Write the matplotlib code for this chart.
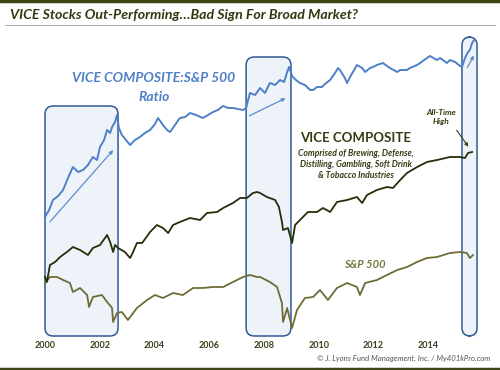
import matplotlib
matplotlib.use("Agg")
import matplotlib.pyplot as plt
from matplotlib.patches import FancyBboxPatch
from matplotlib.lines import Line2D

plt.rcParams['font.family'] = ['Lato', 'DejaVu Sans']

# readings (decimal year, relative level; no y scale shown on original)
ratio_years = [2000.00, 2000.15, 2000.29, 2000.48, 2000.66, 2000.84, 2001.02, 2001.21, 2001.39, 2001.57,
               2001.75, 2001.90, 2002.01, 2002.16, 2002.27, 2002.38, 2002.45, 2002.56, 2002.63, 2002.70,
               2002.81, 2002.96, 2003.11, 2003.29, 2003.47, 2003.65, 2003.84, 2004.02, 2004.13, 2004.31,
               2004.46, 2004.57, 2004.75, 2004.93, 2005.12, 2005.30, 2005.52, 2005.77, 2005.96, 2006.14,
               2006.32, 2006.51, 2006.69, 2006.87, 2007.05, 2007.24, 2007.35, 2007.49, 2007.68, 2007.86,
               2008.04, 2008.22, 2008.41, 2008.59, 2008.74, 2008.85, 2008.92, 2009.03, 2009.17, 2009.32,
               2009.50, 2009.69, 2009.80, 2009.94, 2010.12, 2010.23, 2010.42, 2010.60, 2010.71, 2010.78,
               2010.96, 2011.04, 2011.15, 2011.40, 2011.59, 2011.70, 2011.88, 2011.99, 2012.13, 2012.35,
               2012.50, 2012.61, 2012.87, 2012.98, 2013.23, 2013.34, 2013.60, 2013.71, 2013.96, 2014.07,
               2014.33, 2014.44, 2014.69, 2014.80, 2014.99, 2015.17, 2015.24, 2015.35, 2015.46, 2015.53,
               2015.61, 2015.68]
ratio_vals = [153, 160, 170, 174, 180, 192, 203, 198, 200, 205,
              213, 210, 223, 230, 240, 237, 243, 248, 255, 242,
              235, 230, 225, 230, 233, 237, 240, 246, 252, 245,
              240, 238, 245, 252, 253, 257, 255, 252, 255, 258,
              260, 264, 262, 262, 261, 260, 262, 277, 275, 282,
              277, 287, 285, 290, 288, 298, 303, 294, 290, 287,
              285, 280, 280, 283, 283, 286, 290, 297, 302, 300,
              292, 287, 293, 305, 302, 298, 302, 303, 305, 307,
              304, 302, 298, 300, 300, 302, 305, 307, 312, 314,
              310, 312, 307, 310, 308, 304, 303, 312, 318, 320,
              327, 330]

vice_years = [2000.00, 2000.07, 2000.18, 2000.37, 2000.55, 2000.80, 2001.02, 2001.28, 2001.57, 2001.75,
              2002.01, 2002.27, 2002.38, 2002.49, 2002.56, 2002.67, 2002.92, 2003.11, 2003.22, 2003.36,
              2003.55, 2003.84, 2004.09, 2004.31, 2004.50, 2004.68, 2004.93, 2005.30, 2005.67, 2005.92,
              2006.29, 2006.51, 2006.87, 2007.13, 2007.38, 2007.60, 2007.75, 2007.86, 2008.11, 2008.41,
              2008.55, 2008.66, 2008.70, 2008.88, 2009.03, 2009.14, 2009.32, 2009.61, 2009.94, 2010.16,
              2010.42, 2010.67, 2011.04, 2011.40, 2011.59, 2011.77, 2012.13, 2012.50, 2012.72, 2012.98,
              2013.23, 2013.60, 2013.96, 2014.33, 2014.80, 2015.17, 2015.35, 2015.46, 2015.61]
vice_vals = [93, 88, 105, 108, 113, 118, 123, 120, 115, 122,
             125, 135, 128, 118, 125, 122, 118, 112, 118, 127,
             127, 138, 145, 142, 137, 145, 148, 152, 150, 157,
             158, 162, 167, 172, 172, 177, 178, 177, 173, 170,
             163, 148, 140, 142, 127, 145, 150, 158, 158, 162,
             158, 168, 170, 173, 167, 175, 180, 183, 182, 190,
             197, 203, 208, 210, 213, 213, 212, 217, 218]

spx_years = [2000.00, 2000.18, 2000.44, 2000.66, 2000.91, 2001.02, 2001.28, 2001.54, 2001.61, 2001.75,
             2002.08, 2002.27, 2002.45, 2002.49, 2002.63, 2002.81, 2003.03, 2003.36, 2003.73, 2004.02,
             2004.31, 2004.68, 2005.04, 2005.41, 2005.77, 2006.14, 2006.51, 2006.87, 2007.24, 2007.49,
             2007.75, 2007.86, 2008.22, 2008.48, 2008.66, 2008.70, 2008.85, 2009.03, 2009.21, 2009.50,
             2009.80, 2010.05, 2010.34, 2010.67, 2011.04, 2011.40, 2011.51, 2011.70, 2012.13, 2012.50,
             2012.87, 2013.23, 2013.60, 2013.96, 2014.33, 2014.80, 2015.17, 2015.42, 2015.53, 2015.64]
spx_vals = [87, 93, 93, 90, 87, 78, 82, 75, 63, 73,
            75, 68, 62, 48, 57, 58, 50, 62, 70, 75,
            72, 77, 75, 82, 82, 83, 83, 88, 93, 95,
            93, 93, 88, 83, 67, 48, 62, 42, 60, 72,
            73, 80, 70, 82, 87, 83, 75, 87, 90, 95,
            100, 103, 108, 112, 113, 117, 118, 117, 112, 115]

year_ticks = [2000, 2002, 2004, 2006, 2008, 2010, 2012, 2014]

# highlighted periods: (start, end, top)
boxes = [(2000.00, 2002.67, 264), (2007.35, 2008.99, 313), (2015.24, 2015.79, 333)]
box_bottom = 34
# trend arrows inside the boxes
trends = [((2000.11, 146), (2002.56, 222)),
          ((2007.38, 253), (2008.88, 273)),
          ((2015.39, 300), (2015.72, 317))]

blue = '#4d80c6'
dark = '#262d08'
olive = '#6e6c36'
title_col = '#313b10'

fig = plt.figure(figsize=(5, 3.7), dpi=100)
ax = fig.add_axes([0.04, 30 / 370, 0.94, 310 / 370])
ax.set_xlim(1999.086, 2016.264)
ax.set_ylim(30, 340)
for s in ax.spines.values():
    s.set_visible(False)
ax.set_yticks([])
ax.set_xticks(year_ticks)
ax.set_xticklabels([str(y) for y in year_ticks], fontsize=6.5, fontweight='bold', color='#3a3f1a')
ax.tick_params(axis='x', length=0, pad=1)

px_per_year = 470 / (2016.264 - 1999.086)
for x0, x1, top in boxes:
    b = FancyBboxPatch((x0, box_bottom), x1 - x0, top - box_bottom,
                       boxstyle="round,pad=0,rounding_size=0.3",
                       mutation_aspect=px_per_year,
                       facecolor='#eef3fa', edgecolor='#2f5b97', linewidth=1.1, zorder=1)
    ax.add_patch(b)

ax.plot(spx_years, spx_vals, color=olive, lw=1.3, zorder=3)
ax.plot(vice_years, vice_vals, color=dark, lw=1.3, zorder=3)
ax.plot(ratio_years, ratio_vals, color=blue, lw=1.4, zorder=3)

for (xa, ya), (xb, yb) in trends:
    ax.annotate('', xy=(xb, yb), xytext=(xa, ya),
                arrowprops=dict(arrowstyle='-|>', color='#5b8cd2', lw=0.9,
                                mutation_scale=5), zorder=4)

ax.annotate('', xy=(2015.53, 221), xytext=(2014.99, 242),
            arrowprops=dict(arrowstyle='-|>', color='#3a3f1a', lw=0.8, mutation_scale=5))

# labels
fig.text(154 / 500, 1 - 78 / 370, 'VICE COMPOSITE:S&P 500', ha='center', va='center',
         fontsize=10, fontweight='bold', style='italic', color=blue)
fig.text(154 / 500, 1 - 97 / 370, 'Ratio', ha='center', va='center',
         fontsize=10, fontweight='bold', style='italic', color=blue)
fig.text(356 / 500, 1 - 138 / 370, 'VICE COMPOSITE', ha='center', va='center',
         fontsize=9.5, fontweight='bold', color=title_col)
fig.text(356 / 500, 1 - 164.5 / 370,
         'Comprised of Brewing, Defense,\nDistilling, Gambling, Soft Drink\n& Tobacco Industries',
         ha='center', va='center', fontsize=6.2, fontweight='bold', style='italic',
         color=title_col, linespacing=1.3)
fig.text(441 / 500, 1 - 117 / 370, 'All-Time\nHigh', ha='center', va='center',
         fontsize=6, fontweight='bold', style='italic', color=title_col, linespacing=1.4)
fig.text(365 / 500, 1 - 265 / 370, 'S&P 500', ha='center', va='center',
         fontsize=8, fontweight='bold', style='italic', color='#7a7840')

fig.text(10 / 500, 1 - 15 / 370, 'VICE Stocks Out-Performing\u2026Bad Sign For Broad Market?',
         ha='left', va='center', fontsize=10.2, fontweight='bold', style='italic', color=title_col)
fig.text(490 / 500, 1 - 358 / 370, '\u00a9 J. Lyons Fund Management, Inc. / My401kPro.com',
         ha='right', va='center', fontsize=5.6, style='italic', color='#555555')

# frame lines
fig.add_artist(Line2D([0, 1], [1 - 1 / 370, 1 - 1 / 370], color='#3d4514', lw=2.5))
fig.add_artist(Line2D([5 / 500, 495 / 500], [1 - 25 / 370, 1 - 25 / 370], color='#b0b0b0', lw=0.8))
fig.add_artist(Line2D([0, 1], [1.5 / 370, 1.5 / 370], color='#3d4514', lw=2.5))

fig.savefig('out.png', dpi=100)
